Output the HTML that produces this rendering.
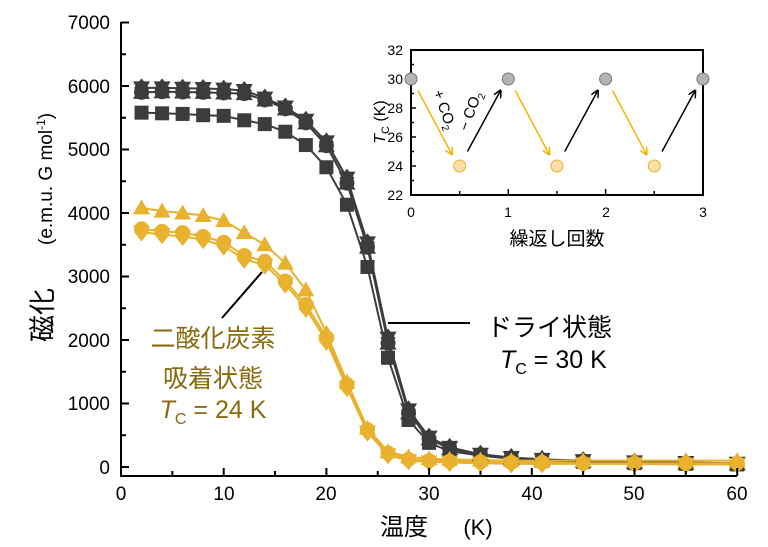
<!DOCTYPE html>
<html><head><meta charset="utf-8"><style>
body{margin:0;background:#fff}
svg{display:block;font-family:"Liberation Sans","Noto Sans CJK JP",sans-serif}
</style></head><body>
<svg id="s" width="768" height="547" viewBox="0 0 768 547">
<g id="main"></g>
<path d="M121 22 V476 H737" fill="none" stroke="#000" stroke-width="2"/>
<g id="ticks" stroke="#000" stroke-width="2"></g>
<g font-size="19" fill="#000" text-anchor="end">
<text x="110" y="29">7000</text><text x="110" y="93">6000</text><text x="110" y="156">5000</text>
<text x="110" y="220">4000</text><text x="110" y="283">3000</text><text x="110" y="347">2000</text>
<text x="110" y="410">1000</text><text x="110" y="474">0</text>
</g>
<g font-size="19" fill="#000" text-anchor="middle">
<text x="121" y="500">0</text><text x="224" y="500">10</text><text x="326" y="500">20</text>
<text x="429" y="500">30</text><text x="532" y="500">40</text><text x="634" y="500">50</text><text x="737" y="500">60</text>
</g>
<text x="380" y="535" font-size="24">温度</text>
<text x="478" y="535" font-size="22" text-anchor="middle">(K)</text>
<g transform="translate(52,342) rotate(-90)"><text font-size="27" text-anchor="start">磁化</text></g>
<g transform="translate(52,245) rotate(-90)"><text font-size="19" text-anchor="start">(e.m.u. G mol<tspan dy="-7" font-size="12">-1</tspan><tspan dy="7">)</tspan></text></g>
<line x1="388" y1="323" x2="470" y2="323" stroke="#000" stroke-width="2"/>
<text x="487" y="336" font-size="25">ドライ状態</text>
<text x="500" y="368" font-size="25"><tspan font-style="italic">T</tspan><tspan font-size="16" dy="6">C</tspan><tspan dy="-6"> = 30 K</tspan></text>
<line x1="222" y1="318" x2="262" y2="272" stroke="#000" stroke-width="2"/>
<g fill="#8a6a10" font-size="25" text-anchor="middle">
<text x="213" y="347">二酸化炭素</text>
<text x="213" y="387">吸着状態</text>
<text x="213" y="418"><tspan font-style="italic">T</tspan><tspan font-size="16" dy="6">C</tspan><tspan dy="-6"> = 24 K</tspan></text>
</g>
<rect x="411" y="50" width="292" height="145" fill="#fff" stroke="#000" stroke-width="2"/>
<g id="iticks" stroke="#000" stroke-width="1.5"></g>
<g font-size="14" text-anchor="end">
<text x="403" y="55">32</text><text x="403" y="84">30</text><text x="403" y="113">28</text>
<text x="403" y="142">26</text><text x="403" y="171">24</text><text x="403" y="200">22</text>
</g>
<g font-size="14" text-anchor="middle">
<text x="411" y="217">0</text><text x="508" y="217">1</text><text x="606" y="217">2</text><text x="703" y="217">3</text>
</g>
<text x="557" y="245" font-size="19" text-anchor="middle">繰返し回数</text>
<g transform="translate(385,122) rotate(-90)"><text font-size="16" text-anchor="middle"><tspan font-style="italic">T</tspan><tspan font-size="11" dy="4">C</tspan><tspan dy="-4"> (K)</tspan></text></g>
<g transform="translate(433,92) rotate(70)"><text font-size="15">+ CO<tspan font-size="10" dy="4">2</tspan></text></g>
<g transform="translate(468,132) rotate(-70)"><text font-size="15">− CO<tspan font-size="10" dy="4">2</tspan></text></g>
<g id="inset"></g>
</svg>
<script>
const NS="http://www.w3.org/2000/svg";
function el(p,t,a){const e=document.createElementNS(NS,t);for(const k in a)e.setAttribute(k,a[k]);p.appendChild(e);return e;}
const X=T=>121+T*10.27, Y=M=>467-M*0.0635;
const main=document.getElementById('main');
const Ts=[2,4,6,8,10,12,14,16,18,20,22,24,26,28,30,32,35,38,41,45,50,55,60];
const dU=[5970,5970,5965,5960,5950,5930,5810,5670,5460,5120,4550,3530,2030,900,470,310,200,150,120,100,80,70,60];
const dU2=[5900,5910,5905,5900,5890,5880,5780,5640,5420,5060,4470,3460,1950,850,440,290,190,140,110,90,70,60,50];
const dS=[5580,5570,5560,5540,5530,5460,5400,5280,5070,4720,4130,3150,1720,740,380,250,180,130,100,80,60,50,40];
const gT=[4080,4030,4000,3960,3880,3690,3500,3210,2790,2110,1340,610,240,160,130,120,110,100,100,100,100,100,100];
const gC=[3750,3710,3690,3630,3540,3330,3240,2930,2560,2040,1300,590,220,120,100,90,80,70,70,60,60,60,60];
const gD=[3700,3660,3630,3580,3480,3270,3180,2880,2500,1980,1250,550,190,100,80,70,60,50,50,50,50,40,40];
function line(d,c){el(main,'polyline',{points:Ts.map((t,i)=>X(t)+','+Y(d[i])).join(' '),fill:'none',stroke:c,'stroke-width':2});}
function mk(d,c,shape){Ts.forEach((t,i)=>{const x=X(t),y=Y(d[i]);const r=7.5;
 if(shape=='s')el(main,'rect',{x:x-r+0.5,y:y-r+0.5,width:2*r-1,height:2*r-1,fill:c});
 else if(shape=='c')el(main,'circle',{cx:x,cy:y,r:r,fill:c});
 else if(shape=='t')el(main,'polygon',{points:`${x},${y-r-1} ${x+r+1},${y+r-1} ${x-r-1},${y+r-1}`,fill:c});
 else if(shape=='v')el(main,'polygon',{points:`${x},${y+r+1} ${x+r+1},${y-r+1} ${x-r-1},${y-r+1}`,fill:c});
 else if(shape=='d')el(main,'polygon',{points:`${x},${y-r-2} ${x+r},${y} ${x},${y+r+2} ${x-r},${y}`,fill:c});});}
const dk='#3c3c3c',gd='#e8b22e';
[dS,dU,dU2].forEach(d=>line(d,dk));[gT,gC,gD].forEach(d=>line(d,gd));
mk(dS,dk,'s');mk(dU2,dk,'t');mk(dU,dk,'v');mk(dU2,dk,'c');mk(dU,dk,'d');
mk(gT,gd,'t');mk(gC,gd,'c');mk(gD,gd,'d');mk(gD,gd,'v');
const tk=document.getElementById('ticks');
for(let m=0;m<=7000;m+=500){const y=Y(m);el(tk,'line',{x1:121,y1:y,x2:m%1000?126:129,y2:y});}
for(let t=0;t<=60;t+=5){const x=X(t);el(tk,'line',{x1:x,y1:476,x2:x,y2:t%10?471:468});}
const IX=c=>411+c*97.3, IY=k=>195-(k-22)*14.5;
const it=document.getElementById('iticks');
for(let k=22;k<=32;k++){el(it,'line',{x1:411,y1:IY(k),x2:k%2?414:416,y2:IY(k)});}
for(let c=0;c<=3;c+=0.5){el(it,'line',{x1:IX(c),y1:195,x2:IX(c),y2:c%1?191:189});}
const ins=document.getElementById('inset');
const defs=el(document.getElementById('s'),'defs',{});
[['ay','#f5b400'],['ak','#000']].forEach(([id,c])=>{const m=el(defs,'marker',{id,markerWidth:8,markerHeight:8,refX:7,refY:4,orient:'auto',markerUnits:'userSpaceOnUse'});el(m,'path',{d:'M0,0 L8,4 L0,8',fill:'none',stroke:c,'stroke-width':1.5});});
for(let i=0;i<3;i++){const c=i;
 el(ins,'line',{x1:IX(c)+7,y1:IY(29.2),x2:IX(c+0.42),y2:IY(24.8),stroke:'#f5b400','stroke-width':1.5,'marker-end':'url(#ay)'});
 el(ins,'line',{x1:IX(c+0.58),y1:IY(25),x2:IX(c+0.92),y2:IY(29.2),stroke:'#000','stroke-width':1.5,'marker-end':'url(#ak)'});}
for(let c=0;c<=3;c+=0.5){const lo=c%1;el(ins,'circle',{cx:IX(c),cy:IY(lo?24:30),r:6,fill:lo?'#fbe0a8':'#b4b4b4',stroke:lo?'#e8b22e':'#777','stroke-width':1});}
</script>
</body></html>
